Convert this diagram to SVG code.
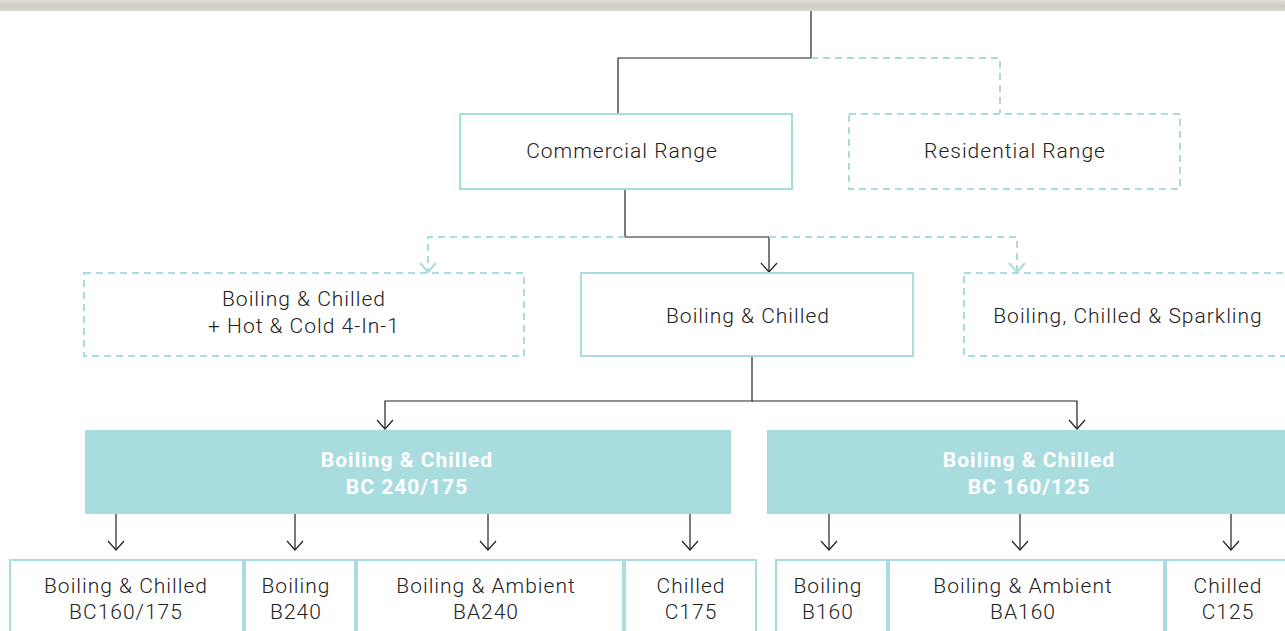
<svg xmlns="http://www.w3.org/2000/svg" width="1285" height="631" viewBox="0 0 1285 631">
<defs>
<linearGradient id="bar" x1="0" y1="0" x2="0" y2="1">
<stop offset="0" stop-color="#e2dfdc"/>
<stop offset="0.5" stop-color="#cfcbc7"/>
<stop offset="1" stop-color="#d8d4d0"/>
</linearGradient>
<marker id="ah" markerWidth="14" markerHeight="20" refX="11" refY="9" orient="auto" markerUnits="userSpaceOnUse" viewBox="0 0 14 20">
<path d="M2,1 L11,9 L2,17" fill="none" stroke="#222" stroke-width="1.2"/>
</marker>
<marker id="ahd" markerWidth="14" markerHeight="20" refX="11" refY="9" orient="auto" markerUnits="userSpaceOnUse" viewBox="0 0 14 20">
<path d="M2,1 L11,9 L2,17" fill="none" stroke="#a9dcdf" stroke-width="2"/>
</marker>
</defs>
<style>
.box{fill:#fff;stroke:#a9dcdf;stroke-width:2}
.dbox{fill:#fff;stroke:#a9dcdf;stroke-width:2;stroke-dasharray:7 5}
.band{fill:#a9dcdf}
.t{font-family:Roboto,"Liberation Sans",sans-serif;font-weight:300;font-size:21px;letter-spacing:1px;fill:#222;text-anchor:middle}
.tb{font-family:Roboto,"Liberation Sans",sans-serif;font-weight:700;font-size:21px;letter-spacing:1px;fill:#fff;text-anchor:middle}
.ln{fill:none;stroke:#222;stroke-width:1.2}
.dl{fill:none;stroke:#a9dcdf;stroke-width:2;stroke-dasharray:7 5}
</style>
<rect x="0" y="0" width="1285" height="11" fill="url(#bar)"/>
<g id="connectors">
<path class="ln" d="M811,11 V58 H618 V113"/>
<path class="dl" d="M811,58 H1000 V113"/>
<path class="ln" d="M625,189 V237 H769 V272" marker-end="url(#ah)"/>
<path class="dl" d="M625,237 H428 V272" marker-end="url(#ahd)"/>
<path class="dl" d="M769,237 H1017 V272" marker-end="url(#ahd)"/>
<path class="ln" d="M752,356 V401 H385 V429" marker-end="url(#ah)"/>
<path class="ln" d="M752,401 H1077 V429" marker-end="url(#ah)"/>
<path class="ln" d="M116,514 V550" marker-end="url(#ah)"/>
<path class="ln" d="M295,514 V550" marker-end="url(#ah)"/>
<path class="ln" d="M488,514 V550" marker-end="url(#ah)"/>
<path class="ln" d="M690,514 V550" marker-end="url(#ah)"/>
<path class="ln" d="M829,514 V550" marker-end="url(#ah)"/>
<path class="ln" d="M1020,514 V550" marker-end="url(#ah)"/>
<path class="ln" d="M1231,514 V550" marker-end="url(#ah)"/>
</g>
<g id="commercial"><rect class="box" x="460" y="114" width="332" height="75"/><text class="t" x="622" y="158">Commercial Range</text></g>
<g id="residential"><rect class="dbox" x="849" y="114" width="331" height="75"/><text class="t" x="1015" y="158">Residential Range</text></g>
<g id="bc4in1"><rect class="dbox" x="84" y="273" width="440" height="83"/><text class="t" x="304" y="306">Boiling &amp; Chilled</text><text class="t" x="304" y="333">+ Hot &amp; Cold 4-In-1</text></g>
<g id="bc"><rect class="box" x="581" y="273" width="332" height="83"/><text class="t" x="748" y="323">Boiling &amp; Chilled</text></g>
<g id="bcs"><rect class="dbox" x="964" y="273" width="330" height="83"/><text class="t" x="1128" y="323">Boiling, Chilled &amp; Sparkling</text></g>
<g id="bc240"><rect class="band" x="85" y="430" width="646" height="84"/><text class="tb" x="407" y="467">Boiling &amp; Chilled</text><text class="tb" x="407" y="494">BC 240/175</text></g>
<g id="bc160"><rect class="band" x="767" y="430" width="524" height="84"/><text class="tb" x="1029" y="467">Boiling &amp; Chilled</text><text class="tb" x="1029" y="494">BC 160/125</text></g>
<g id="bc160175"><rect class="box" x="10" y="560" width="233" height="80"/><text class="t" x="126" y="593">Boiling &amp; Chilled</text><text class="t" x="126" y="619">BC160/175</text></g>
<g id="b240"><rect class="box" x="245" y="560" width="110" height="80"/><text class="t" x="296" y="593">Boiling</text><text class="t" x="296" y="619">B240</text></g>
<g id="ba240"><rect class="box" x="357" y="560" width="266" height="80"/><text class="t" x="486" y="593">Boiling &amp; Ambient</text><text class="t" x="486" y="619">BA240</text></g>
<g id="c175"><rect class="box" x="625" y="560" width="131" height="80"/><text class="t" x="691" y="593">Chilled</text><text class="t" x="691" y="619">C175</text></g>
<g id="b160"><rect class="box" x="776" y="560" width="111" height="80"/><text class="t" x="828" y="593">Boiling</text><text class="t" x="828" y="619">B160</text></g>
<g id="ba160"><rect class="box" x="889" y="560" width="275" height="80"/><text class="t" x="1023" y="593">Boiling &amp; Ambient</text><text class="t" x="1023" y="619">BA160</text></g>
<g id="c125"><rect class="box" x="1166" y="560" width="130" height="80"/><text class="t" x="1228" y="593">Chilled</text><text class="t" x="1228" y="619">C125</text></g>
</svg>
